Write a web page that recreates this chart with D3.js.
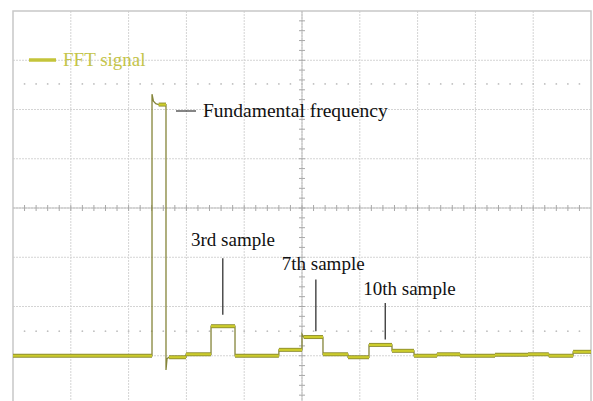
<!DOCTYPE html>
<html>
<head>
<meta charset="utf-8">
<script src="https://cdn.jsdelivr.net/npm/d3@7"></script>
<style>
  html, body { margin: 0; padding: 0; background: #fff; }
  svg { display: block; }
  text { font-family: 'Liberation Serif', 'Times New Roman', serif; }
</style>
</head>
<body>
<div id="viz"></div>
<script>
// scope screen: 10 x 8 divisions, values in divisions
const traceX = [0, 2.405, 2.405, 2.43, 2.47, 2.52, 2.647, 2.647, 2.665, 2.70, 2.993, 2.993, 3.426, 3.426, 3.841, 3.841, 4.60, 4.60, 5.0, 5.0, 5.03, 5.363, 5.363, 5.796, 5.796, 6.159, 6.159, 6.557, 6.557, 6.938, 6.938, 7.336, 7.336, 7.734, 7.734, 8.339, 8.339, 8.91, 8.91, 9.27, 9.27, 9.69, 9.69, 10];
const traceV = [-3.0, -3.0, 2.31, 2.17, 2.12, 2.10, 2.10, -3.29, -3.06, -3.03, -3.03, -2.97, -2.97, -2.40, -2.40, -3.0, -3.0, -2.88, -2.88, -2.56, -2.62, -2.62, -2.97, -2.97, -3.03, -3.03, -2.78, -2.78, -2.90, -2.90, -3.0, -3.0, -2.97, -2.97, -3.0, -3.0, -2.98, -2.98, -2.97, -2.97, -3.0, -3.0, -2.92, -2.92];

const cursorLevels = [2.52, -2.5];

const annoLabels = ['3rd sample', '7th sample', '10th sample'];
const annoX = [3.63, 5.24, 6.44];
const annoTop = [-1.02, -1.45, -1.93];
const annoBottom = [-2.17, -2.5, -2.67];
const annoTextY = [-0.77, -1.26, -1.76];
const annoTextX = [3.08, 4.65, 6.06];

const width = 593, height = 401;
const x = d3.scaleLinear().domain([0, 10]).range([13, 591]);
const y = d3.scaleLinear().domain([-4, 4]).range([405, 11]);

const svg = d3.select('#viz').append('svg')
    .attr('width', width).attr('height', height);

// grid
const grid = svg.append('g');
grid.selectAll('.vg').data(d3.range(1, 10)).join('line')
    .attr('x1', d => x(d)).attr('x2', d => x(d))
    .attr('y1', y(4)).attr('y2', y(-4))
    .attr('stroke', '#d4d4d4').attr('stroke-width', 1).attr('stroke-dasharray', '2,1');
grid.selectAll('.hg').data(d3.range(-3, 4)).join('line')
    .attr('x1', x(0)).attr('x2', x(10))
    .attr('y1', d => y(d)).attr('y2', d => y(d))
    .attr('stroke', '#d4d4d4').attr('stroke-width', 1).attr('stroke-dasharray', '2,1');

// border
grid.append('rect')
    .attr('x', x(0)).attr('y', y(4))
    .attr('width', x(10) - x(0)).attr('height', y(-4) - y(4))
    .attr('fill', 'none').attr('stroke', '#c8c8c8').attr('stroke-width', 1.5);

// centre axes with minor ticks
grid.append('line').attr('x1', x(5)).attr('x2', x(5)).attr('y1', y(4)).attr('y2', y(-4))
    .attr('stroke', '#bdbdbd').attr('stroke-width', 1);
grid.append('line').attr('x1', x(0)).attr('x2', x(10)).attr('y1', y(0)).attr('y2', y(0))
    .attr('stroke', '#bdbdbd').attr('stroke-width', 1);
grid.selectAll('.tx').data(d3.range(1, 50)).join('line')
    .attr('x1', d => x(d / 5)).attr('x2', d => x(d / 5))
    .attr('y1', y(0) - 3).attr('y2', y(0) + 3)
    .attr('stroke', '#a8a8a8').attr('stroke-width', 1);
grid.selectAll('.ty').data(d3.range(-19, 20)).join('line')
    .attr('x1', x(5) - 3).attr('x2', x(5) + 3)
    .attr('y1', d => y(d / 5)).attr('y2', d => y(d / 5))
    .attr('stroke', '#a8a8a8').attr('stroke-width', 1);

// dotted cursor lines
cursorLevels.forEach(v => {
  grid.selectAll(null).data(d3.range(1, 50)).join('circle')
    .attr('cx', d => x(d / 5)).attr('cy', y(v)).attr('r', 0.9)
    .attr('fill', '#bfbfbf');
});

// trace
const pts = traceX.map((d, i) => [d, traceV[i]]);
const line = d3.line().x(d => x(d[0])).y(d => y(d[1]));
svg.append('path').datum(pts).attr('d', line)
    .attr('fill', 'none').attr('stroke', '#85853a').attr('stroke-width', 1.3);

const flats = [];
for (let i = 0; i < pts.length - 1; i++) {
  if (pts[i][1] === pts[i + 1][1] && pts[i + 1][0] > pts[i][0]) flats.push([pts[i], pts[i + 1]]);
}
const tr = svg.append('g');
tr.selectAll('.fo').data(flats).join('line')
    .attr('x1', d => x(d[0][0])).attr('x2', d => x(d[1][0]))
    .attr('y1', d => y(d[0][1])).attr('y2', d => y(d[1][1]))
    .attr('stroke', '#8e8e30').attr('stroke-width', 4);
tr.selectAll('.fi').data(flats).join('line')
    .attr('x1', d => x(d[0][0])).attr('x2', d => x(d[1][0]))
    .attr('y1', d => y(d[0][1])).attr('y2', d => y(d[1][1]))
    .attr('stroke', '#cccc2c').attr('stroke-width', 2.2);

// legend
svg.append('line').attr('x1', 29).attr('x2', 56).attr('y1', 60).attr('y2', 60)
    .attr('stroke', '#c4c43a').attr('stroke-width', 3.5);
svg.append('text').attr('x', 63).attr('y', 66).text('FFT signal')
    .attr('font-size', 19).attr('fill', '#c4c44a');

// fundamental label
svg.append('line').attr('x1', 176).attr('x2', 196).attr('y1', 111).attr('y2', 111)
    .attr('stroke', '#333').attr('stroke-width', 1.2);
svg.append('text').attr('x', 203).attr('y', 117).text('Fundamental frequency')
    .attr('font-size', 19.5).attr('fill', '#111');

// sample annotations
const ann = svg.append('g');
ann.selectAll('line').data(annoLabels).join('line')
    .attr('x1', (d, i) => x(annoX[i])).attr('x2', (d, i) => x(annoX[i]))
    .attr('y1', (d, i) => y(annoTop[i])).attr('y2', (d, i) => y(annoBottom[i]))
    .attr('stroke', '#222').attr('stroke-width', 1.2);
ann.selectAll('text').data(annoLabels).join('text')
    .attr('x', (d, i) => x(annoTextX[i])).attr('y', (d, i) => y(annoTextY[i]))
    .text(d => d)
    .attr('font-size', 19).attr('fill', '#111');
</script>
</body>
</html>
